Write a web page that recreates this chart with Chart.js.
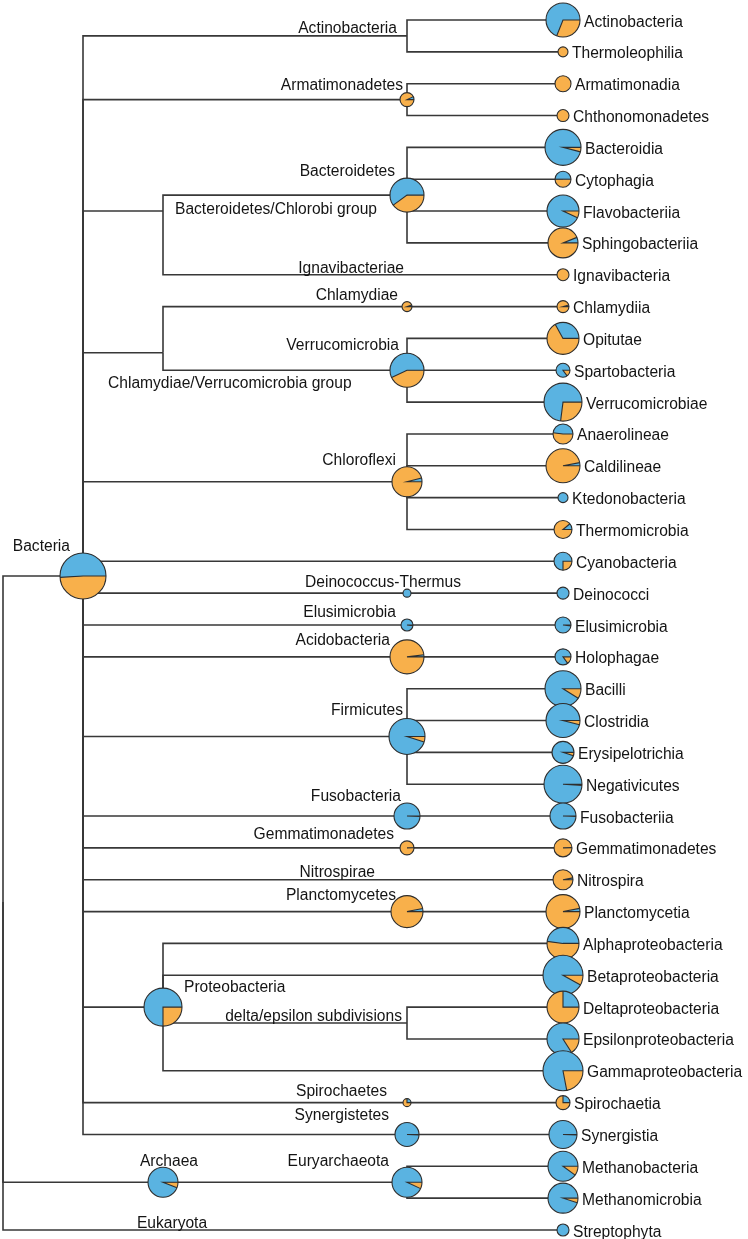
<!DOCTYPE html>
<html>
<head>
<meta charset="utf-8">
<script src="https://cdn.jsdelivr.net/npm/chart.js@4.4.1/dist/chart.umd.min.js"></script>
<style>
  html, body { margin: 0; padding: 0; background: #fff; }
  #wrap { width: 748px; height: 1239px; position: relative; }
</style>
</head>
<body>
<div id="wrap"><canvas id="treeChart"></canvas></div>
<script>
// ranked (inner) nodes of the tree: depth = branch position, row = vertical slot
const innerNames = ['root', 'Bacteria', 'Actinobacteria', 'Armatimonadetes', 'Bacteroidetes/Chlorobi group',
  'Bacteroidetes', 'Ignavibacteriae', 'Chlamydiae/Verrucomicrobia group', 'Chlamydiae', 'Verrucomicrobia',
  'Chloroflexi', 'Deinococcus-Thermus', 'Elusimicrobia', 'Acidobacteria', 'Firmicutes', 'Fusobacteria',
  'Gemmatimonadetes', 'Nitrospirae', 'Planctomycetes', 'Proteobacteria', 'delta/epsilon subdivisions',
  'Spirochaetes', 'Synergistetes', 'Archaea', 'Euryarchaeota', 'Eukaryota'];
const innerParents = [null, 'root', 'Bacteria', 'Bacteria', 'Bacteria',
  'Bacteroidetes/Chlorobi group', 'Bacteroidetes/Chlorobi group', 'Bacteria', 'Chlamydiae/Verrucomicrobia group', 'Chlamydiae/Verrucomicrobia group',
  'Bacteria', 'Bacteria', 'Bacteria', 'Bacteria', 'Bacteria', 'Bacteria',
  'Bacteria', 'Bacteria', 'Bacteria', 'Bacteria', 'Proteobacteria',
  'Bacteria', 'Bacteria', 'root', 'Archaea', 'root'];
const innerDepth = [0, 1, 5.05, 5.05, 2, 5.05, 5.05, 2, 5.05, 5.05, 5.05, 5.05, 5.05, 5.05, 5.05, 5.05,
  5.05, 5.05, 5.05, 2, 5.05, 5.05, 5.05, 2, 5.05, 2];
const innerRow = [27.7, 17.46, 0.5, 2.5, 6, 5.5, 8, 10.45, 9, 11, 14.5, 18, 19, 20, 22.5, 25,
  26, 27, 28, 31, 31.5, 34, 35, 36.5, 36.5, 38];
const innerSize = [0, 23, 0, 7, 0, 17, 0, 0, 5, 17, 15, 4, 6, 17, 18, 13, 7, 0, 16, 19, 0, 4, 12, 15, 15, 0];
const innerOrange = [0, 0.49, 0, 0.93, 0, 0.40, 0, 0, 0.95, 0.43, 0.96, 0, 0.02, 0.98, 0.05, 0.005,
  0.995, 0, 0.97, 0.25, 0, 0.75, 0.005, 0.06, 0.07, 0];

// classes, one per row from the top
const leafNames = ['Actinobacteria', 'Thermoleophilia', 'Armatimonadia', 'Chthonomonadetes', 'Bacteroidia',
  'Cytophagia', 'Flavobacteriia', 'Sphingobacteriia', 'Ignavibacteria', 'Chlamydiia', 'Opitutae',
  'Spartobacteria', 'Verrucomicrobiae', 'Anaerolineae', 'Caldilineae', 'Ktedonobacteria', 'Thermomicrobia',
  'Cyanobacteria', 'Deinococci', 'Elusimicrobia', 'Holophagae', 'Bacilli', 'Clostridia', 'Erysipelotrichia',
  'Negativicutes', 'Fusobacteriia', 'Gemmatimonadetes', 'Nitrospira', 'Planctomycetia', 'Alphaproteobacteria',
  'Betaproteobacteria', 'Deltaproteobacteria', 'Epsilonproteobacteria', 'Gammaproteobacteria', 'Spirochaetia',
  'Synergistia', 'Methanobacteria', 'Methanomicrobia', 'Streptophyta'];
const leafParents = ['Actinobacteria', 'Actinobacteria', 'Armatimonadetes', 'Armatimonadetes', 'Bacteroidetes',
  'Bacteroidetes', 'Bacteroidetes', 'Bacteroidetes', 'Ignavibacteriae', 'Chlamydiae', 'Verrucomicrobia',
  'Verrucomicrobia', 'Verrucomicrobia', 'Chloroflexi', 'Chloroflexi', 'Chloroflexi', 'Chloroflexi',
  'Bacteria', 'Deinococcus-Thermus', 'Elusimicrobia', 'Acidobacteria', 'Firmicutes', 'Firmicutes', 'Firmicutes',
  'Firmicutes', 'Fusobacteria', 'Gemmatimonadetes', 'Nitrospirae', 'Planctomycetes', 'Proteobacteria',
  'Proteobacteria', 'delta/epsilon subdivisions', 'delta/epsilon subdivisions', 'Proteobacteria', 'Spirochaetes',
  'Synergistetes', 'Euryarchaeota', 'Euryarchaeota', 'Eukaryota'];
const leafSize = [17, 5, 8, 6, 18, 8, 16, 15, 6, 6, 16, 7, 19, 10, 17, 5, 9, 9, 6, 8, 8, 18, 17, 11,
  19, 13, 9, 10, 17, 16, 20, 16, 16, 20, 7, 14, 15, 15, 6];
const leafOrange = [0.31, 1, 1, 1, 0.04, 0.5, 0.07, 0.94, 1, 0.96, 0.67, 0.15, 0.27, 0.52, 0.97, 0, 0.89,
  0.25, 0, 0.02, 0.15, 0.09, 0.04, 0.05, 0.01, 0.005, 0.995, 0.97, 0.97, 0.52, 0.08, 0.75, 0.16, 0.22,
  0.75, 0.005, 0.1, 0.05, 0];
const LEAF_DEPTH = 7;

const BLUE = '#5ab3e1';
const ORANGE = '#f8b04b';
const INK = '#2e2e2e';
const FONT = '15.6px "Liberation Sans", Arial, sans-serif';

// where each ranked label sits around its node: [align, dx, dy] in px (dy = text centre)
const labelPlace = {
  'Bacteria': ['right', -13, -31],
  'Actinobacteria': ['right', -10, -9],
  'Armatimonadetes': ['right', -4, -15],
  'Bacteroidetes/Chlorobi group': ['left', 12, -3],
  'Bacteroidetes': ['right', -12, -25],
  'Ignavibacteriae': ['right', -3, -8],
  'Chlamydiae/Verrucomicrobia group': ['left', -55, 29],
  'Chlamydiae': ['right', -9, -12],
  'Verrucomicrobia': ['right', -8, -26],
  'Chloroflexi': ['right', -11, -23],
  'Deinococcus-Thermus': ['center', -24, -12],
  'Elusimicrobia': ['right', -11, -14],
  'Acidobacteria': ['right', -17, -18],
  'Firmicutes': ['right', -4, -27],
  'Fusobacteria': ['right', -6, -21],
  'Gemmatimonadetes': ['right', -13, -15],
  'Nitrospirae': ['right', -32, -9],
  'Planctomycetes': ['right', -11, -17],
  'Proteobacteria': ['left', 21, -21],
  'delta/epsilon subdivisions': ['right', -5, -8],
  'Spirochaetes': ['right', -20, -12],
  'Synergistetes': ['right', -18, -20],
  'Archaea': ['center', 6, -22],
  'Euryarchaeota': ['right', -18, -22],
  'Eukaryota': ['center', 9, -8]
};

function innerPos(name) {
  const i = innerNames.indexOf(name);
  return { x: innerDepth[i], y: innerRow[i] };
}

// elbow branches: down/up the parent's column, then across to the child
const branchSets = [];
function addBranch(parentName, x, y) {
  const p = innerPos(parentName);
  branchSets.push({
    type: 'scatter',
    showLine: true,
    data: [{ x: p.x, y: p.y }, { x: p.x, y: y }, { x: x, y: y }],
    borderColor: '#383838',
    borderWidth: 1.6,
    borderJoinStyle: 'miter',
    pointRadius: 0,
    clip: false
  });
}
innerNames.forEach((n, i) => { if (innerParents[i]) addBranch(innerParents[i], innerDepth[i], innerRow[i]); });
leafNames.forEach((n, i) => addBranch(leafParents[i], LEAF_DEPTH, i));

const innerPoints = innerNames.map((n, i) => ({
  x: innerDepth[i], y: innerRow[i], r: innerSize[i], fo: innerOrange[i], name: n
}));
const leafPoints = leafNames.map((n, i) => ({
  x: LEAF_DEPTH, y: i, r: leafSize[i], fo: leafOrange[i], name: n, leaf: true
}));

function drawPie(ctx, x, y, r, fo) {
  const a = Math.PI * 2 * fo;
  ctx.save();
  // orange runs clockwise from three o'clock, blue takes the rest
  if (fo > 0) {
    ctx.beginPath(); ctx.moveTo(x, y); ctx.arc(x, y, r, 0, a); ctx.closePath();
    ctx.fillStyle = ORANGE; ctx.fill();
  }
  if (fo < 1) {
    ctx.beginPath(); ctx.moveTo(x, y); ctx.arc(x, y, r, a, Math.PI * 2); ctx.closePath();
    ctx.fillStyle = BLUE; ctx.fill();
  }
  ctx.strokeStyle = INK;
  ctx.lineWidth = 1.1;
  ctx.beginPath(); ctx.arc(x, y, r, 0, Math.PI * 2); ctx.stroke();
  if (fo > 0 && fo < 1) {
    ctx.beginPath();
    ctx.moveTo(x + r, y); ctx.lineTo(x, y);
    ctx.lineTo(x + r * Math.cos(a), y + r * Math.sin(a));
    ctx.stroke();
  }
  ctx.restore();
}

const piePlugin = {
  id: 'piesAndNames',
  afterDatasetsDraw(chart) {
    const ctx = chart.ctx;
    ctx.save();
    ctx.font = FONT;
    ctx.textBaseline = 'alphabetic';
    chart.data.datasets.forEach((ds, di) => {
      if (ds.type !== 'bubble') return;
      chart.getDatasetMeta(di).data.forEach((el, i) => {
        const d = ds.data[i];
        if (d.r > 0) drawPie(ctx, el.x, el.y, d.r, d.fo);
        ctx.fillStyle = '#141414';
        if (d.leaf) {
          ctx.textAlign = 'left';
          ctx.fillText(d.name, el.x + d.r + 4, el.y + 6.5);
        } else if (labelPlace[d.name]) {
          const [align, dx, dy] = labelPlace[d.name];
          ctx.textAlign = align;
          ctx.fillText(d.name, el.x + dx, el.y + dy + 5.8);
        }
      });
    });
    ctx.restore();
  }
};

new Chart(document.getElementById('treeChart'), {
  type: 'bubble',
  data: {
    datasets: [
      { type: 'bubble', data: innerPoints, backgroundColor: 'rgba(0,0,0,0)', borderWidth: 0, clip: false },
      { type: 'bubble', data: leafPoints, backgroundColor: 'rgba(0,0,0,0)', borderWidth: 0, clip: false },
      ...branchSets
    ]
  },
  options: {
    responsive: true,
    maintainAspectRatio: false,
    animation: false,
    events: [],
    layout: { autoPadding: false, padding: { left: 3, right: 185, top: 20, bottom: 9 } },
    scales: {
      x: { type: 'linear', min: 0, max: 7, display: false },
      y: { type: 'linear', min: 0, max: 38, reverse: true, display: false }
    },
    plugins: { legend: { display: false }, tooltip: { enabled: false } }
  },
  plugins: [piePlugin]
});
</script>
</body>
</html>
